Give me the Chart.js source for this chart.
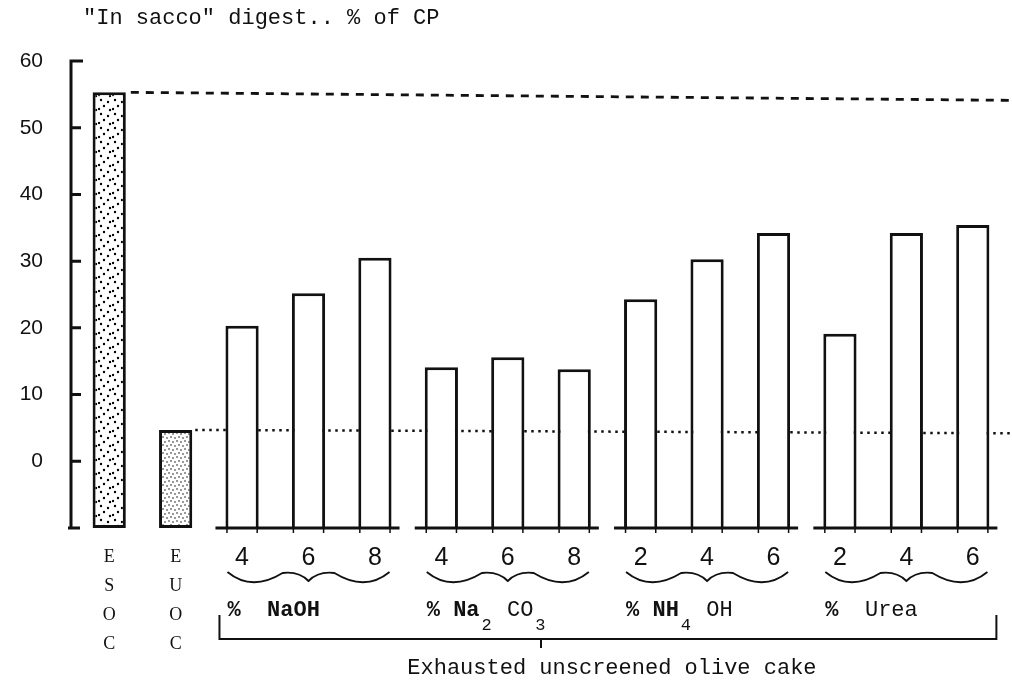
<!DOCTYPE html>
<html>
<head>
<meta charset="utf-8">
<script src="https://cdn.jsdelivr.net/npm/chart.js@4.4.1/dist/chart.umd.min.js"></script>
<style>
  html, body { margin: 0; padding: 0; background: #fff; }
  #wrap { width: 1012px; height: 682px; position: relative; }
</style>
</head>
<body>
<div id="wrap"><canvas id="chart"></canvas></div>
<script>
// categories: two reference feeds, then the treated olive cake (% of chemical)
const categories = [["E", "S", "O", "C"], ["E", "U", "O", "C"], "4", "6", "8", "4", "6", "8", "2", "4", "6", "2", "4", "6"];
const digestValues = [55.3, 4.7, 20.3, 25.2, 30.5, 14.1, 15.6, 13.8, 24.3, 30.3, 34.2, 19.1, 34.2, 35.4];
const yTicks = [-10, 0, 10, 20, 30, 40, 50, 60];
const esocLevel = [55.3, 54.1]; // dashed line, left end / right end
const euocLevel = [4.7, 4.2];   // dotted line, left end / right end
const treatmentGroups = [[2, 4], [5, 7], [8, 10], [11, 13]];
const treatmentLabels = [
  [["%", "b"], ["  NaOH", "b"]],
  [["%", "b"], [" Na", "b"], ["2", "sub"], [" CO", "n"], ["3", "sub"]],
  [["%", "b"], [" NH", "b"], ["4", "sub"], [" OH", "n"]],
  [["%", "b"], ["  Urea", "n"]]
];
const titleText = '"In sacco" digest.. % of CP';
const captionText = "Exhausted unscreened olive cake";

const MONO = '"Liberation Mono", "DejaVu Sans Mono", monospace';
const SERIF = '"Liberation Serif", "DejaVu Serif", serif';
const INK = "#111";

const canvas = document.getElementById("chart");
const ctx0 = canvas.getContext("2d");

function dotPattern(size, dots, r) {
  const c = document.createElement("canvas");
  c.width = c.height = size;
  const g = c.getContext("2d");
  g.fillStyle = "#fff";
  g.fillRect(0, 0, size, size);
  g.fillStyle = "#000";
  dots.forEach(([dx, dy]) => {
    g.beginPath();
    g.arc(dx, dy, r, 0, Math.PI * 2);
    g.fill();
  });
  return ctx0.createPattern(c, "repeat");
}

const coarseDots = dotPattern(14, [[3, 2], [10, 4], [6, 8], [1, 11], [12, 12]], 1.2);
const fineDots = dotPattern(8, [[1, 1], [5, 2], [3, 5], [7, 6]], 0.75);

const fills = digestValues.map((v, i) => (i === 0 ? coarseDots : i === 1 ? fineDots : "#fff"));
const skipped = digestValues.map((v, i) => (i < 2 ? false : "start"));

function drawRuns(ctx, x, y, runs) {
  ctx.textAlign = "left";
  ctx.textBaseline = "middle";
  runs.forEach(([t, kind]) => {
    if (kind === "sub") {
      ctx.font = `17px ${MONO}`;
      ctx.fillText(t, x + 2, y + 15);
    } else {
      ctx.font = `${kind === "b" ? "bold " : ""}22px ${MONO}`;
      ctx.fillText(t, x, y);
    }
    x += ctx.measureText(t).width + (kind === "sub" ? 4 : 0);
  });
}

function drawBrace(ctx, x0, x1, yT) {
  const xm = (x0 + x1) / 2;
  const L = xm - x0;
  ctx.beginPath();
  ctx.moveTo(x0, yT);
  ctx.quadraticCurveTo(x0 + 0.3 * L, yT + 20, x0 + 0.68 * L, yT + 1);
  ctx.quadraticCurveTo(x0 + 0.88 * L, yT - 1, xm, yT + 9);
  ctx.quadraticCurveTo(x1 - 0.88 * L, yT - 1, x1 - 0.68 * L, yT + 1);
  ctx.quadraticCurveTo(x1 - 0.3 * L, yT + 20, x1, yT);
  ctx.stroke();
}

const decor = {
  id: "decor",
  beforeDatasetsDraw(chart) {
    const { ctx, scales: { x, y } } = chart;
    const half = (x.getPixelForValue(1) - x.getPixelForValue(0)) * 0.25;
    ctx.save();
    ctx.strokeStyle = INK;
    ctx.lineWidth = 2.8;
    ctx.setLineDash([8, 7]);
    ctx.beginPath();
    ctx.moveTo(x.getPixelForValue(0) + half + 5, y.getPixelForValue(esocLevel[0]));
    ctx.lineTo(chart.width, y.getPixelForValue(esocLevel[1]));
    ctx.stroke();
    ctx.lineWidth = 2.5;
    ctx.setLineDash([2.5, 4.5]);
    ctx.beginPath();
    ctx.moveTo(x.getPixelForValue(1) + half + 3, y.getPixelForValue(euocLevel[0]));
    ctx.lineTo(chart.width, y.getPixelForValue(euocLevel[1]));
    ctx.stroke();
    ctx.restore();
  },
  afterDatasetsDraw(chart) {
    const { ctx, chartArea, scales: { x, y } } = chart;
    const half = (x.getPixelForValue(1) - x.getPixelForValue(0)) * 0.25;
    const base = y.getPixelForValue(-10);
    ctx.save();
    ctx.strokeStyle = INK;
    ctx.fillStyle = INK;
    ctx.lineCap = "butt";

    // y axis with inward ticks
    const ax = chartArea.left - 5;
    ctx.lineWidth = 3;
    ctx.beginPath();
    ctx.moveTo(ax + 12, y.getPixelForValue(60));
    ctx.lineTo(ax, y.getPixelForValue(60));
    ctx.lineTo(ax, base);
    ctx.moveTo(ax - 3, base);
    ctx.lineTo(ax + 9, base);
    yTicks.filter(v => v > -10 && v < 60).forEach(v => {
      ctx.moveTo(ax, y.getPixelForValue(v));
      ctx.lineTo(ax + 10, y.getPixelForValue(v));
    });
    ctx.stroke();

    // baselines under each treatment group, with small edge ticks
    treatmentGroups.forEach(([a, b]) => {
      const l = x.getPixelForValue(a) - half;
      const r = x.getPixelForValue(b) + half;
      ctx.lineWidth = 3;
      ctx.beginPath();
      ctx.moveTo(l - 10, base);
      ctx.lineTo(r + 8, base);
      ctx.stroke();
      ctx.lineWidth = 1.5;
      ctx.beginPath();
      for (let i = a; i <= b; i++) {
        [x.getPixelForValue(i) - half + 1.5, x.getPixelForValue(i) + half - 1.5].forEach(px => {
          ctx.moveTo(px, base);
          ctx.lineTo(px, base + 5);
        });
      }
      ctx.stroke();
    });

    // braces and chemical names
    ctx.lineWidth = 1.8;
    treatmentGroups.forEach(([a, b], g) => {
      const l = x.getPixelForValue(a) - half;
      const r = x.getPixelForValue(b) + half;
      drawBrace(ctx, l + 2, r - 2, base + 44);
      drawRuns(ctx, l + 2, base + 82, treatmentLabels[g]);
    });

    // bracket over all treated samples
    const bl = x.getPixelForValue(treatmentGroups[0][0]) - half - 6;
    const br = x.getPixelForValue(treatmentGroups[3][1]) + half + 7;
    const by = base + 111;
    ctx.lineWidth = 2;
    ctx.beginPath();
    ctx.moveTo(bl, base + 87);
    ctx.lineTo(bl, by);
    ctx.lineTo(br, by);
    ctx.lineTo(br, base + 87);
    const tx = (x.getPixelForValue(6) + x.getPixelForValue(7)) / 2;
    ctx.moveTo(tx, by);
    ctx.lineTo(tx, by + 9);
    ctx.stroke();

    ctx.font = `22px ${MONO}`;
    ctx.textAlign = "center";
    ctx.textBaseline = "middle";
    ctx.fillText(captionText, (bl + br) / 2 + 4, base + 140);

    // axis title
    ctx.textAlign = "left";
    ctx.fillText(titleText, chartArea.left + 7, chartArea.top - 43);
    ctx.restore();
  }
};

new Chart(canvas, {
  type: "bar",
  data: {
    labels: categories,
    datasets: [{
      data: digestValues,
      base: -10,
      backgroundColor: fills,
      borderColor: INK,
      borderWidth: 3,
      borderSkipped: skipped,
      barPercentage: 0.5,
      categoryPercentage: 1
    }]
  },
  options: {
    responsive: true,
    maintainAspectRatio: false,
    animation: false,
    layout: { padding: { left: 0, right: 6, top: 61, bottom: 0 } },
    plugins: {
      legend: { display: false },
      tooltip: { enabled: false },
      title: { display: false }
    },
    scales: {
      x: {
        offset: true,
        grid: { display: false, drawTicks: false },
        border: { display: false },
        afterFit: (scale) => { scale.height = 154; },
        ticks: {
          color: INK,
          padding: 15,
          maxRotation: 0,
          autoSkip: false,
          font: (c) => (c.index < 2
            ? { family: SERIF, size: 18, lineHeight: 1.6 }
            : { family: '"Liberation Sans", Arial, sans-serif', size: 25, lineHeight: 1.2 })
        }
      },
      y: {
        min: -10,
        max: 60,
        grid: { display: false, drawTicks: false },
        border: { display: false },
        afterFit: (scale) => { scale.width = 76; },
        afterBuildTicks: (scale) => { scale.ticks = yTicks.map(v => ({ value: v })); },
        ticks: {
          color: INK,
          padding: 33,
          font: { family: '"Liberation Sans", Arial, sans-serif', size: 21 },
          callback: (v) => (v === -10 ? "" : v)
        }
      }
    }
  },
  plugins: [decor]
});
</script>
</body>
</html>
